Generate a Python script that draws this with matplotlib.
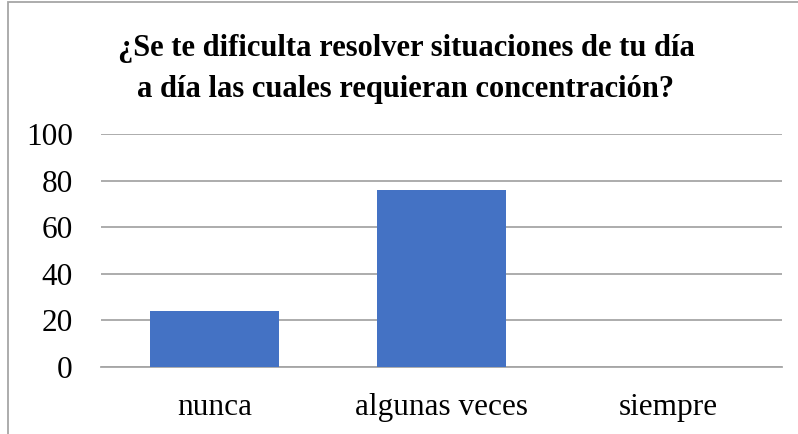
import matplotlib
matplotlib.use("Agg")
import matplotlib.pyplot as plt
from matplotlib.patches import Rectangle

categories = ["nunca", "algunas veces", "siempre"]
values = [24, 76, 0]
yticks = [0, 20, 40, 60, 80, 100]
title = "¿Se te dificulta resolver situaciones de tu día\na día las cuales requieran concentración?"

plt.rcParams['font.family'] = ['Liberation Serif', 'DejaVu Serif']

W, H = 798, 434
fig = plt.figure(figsize=(W/100, H/100), dpi=100)
fig.patch.set_facecolor('white')

ax = fig.add_axes([101/W, 1 - 366.7/H, (781.7-101)/W, (366.7-134)/H])
x = range(len(categories))
ax.bar(x, values, width=0.57, color='#4472C4', zorder=3)
ax.set_ylim(0, 100)
ax.set_xlim(-0.5, len(categories) - 0.5)
ax.set_yticks(yticks)
ax.set_xticks(list(x))
ax.set_xticklabels(categories)
ax.yaxis.grid(True, color='#a6a6a6', linewidth=1.3, zorder=0)
ax.set_axisbelow(True)
for s in ['top', 'right', 'left']:
    ax.spines[s].set_visible(False)
ax.spines['bottom'].set_color('#a6a6a6')
ax.spines['bottom'].set_linewidth(1.3)
ax.tick_params(axis='both', length=0, labelsize=22.5, colors='black')
ax.tick_params(axis='y', pad=20.4)
ax.tick_params(axis='x', pad=19)

fig.text(406/W, 1 - 69/H, title, ha='center', va='center', fontsize=22,
         fontweight='bold', linespacing=1.55)

fig.patches.append(Rectangle((8/W, -0.1), 1.2, 1 - 1.5/H + 0.1, transform=fig.transFigure,
                             fill=False, edgecolor='#a6a6a6', linewidth=1.3))

fig.savefig('out.png', dpi=100, facecolor='white')
